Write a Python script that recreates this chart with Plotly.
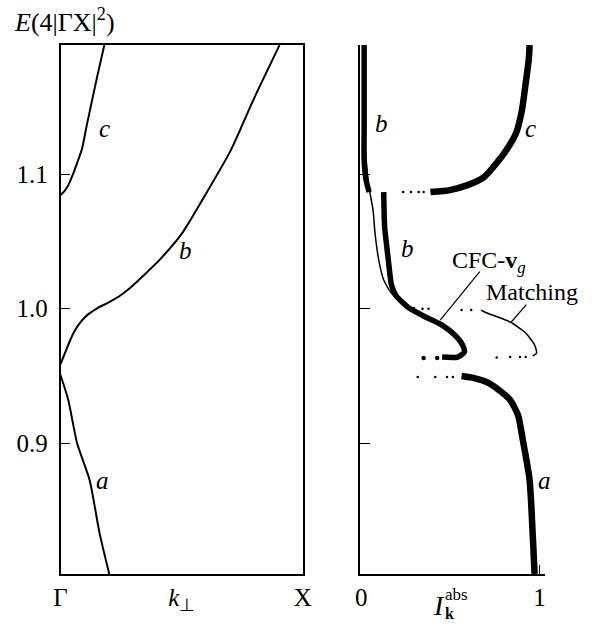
import plotly.graph_objects as go

# ---------------- data: left panel (band structure) ----------------
band_a_k = [0.0, 0.032, 0.068, 0.120, 0.161, 0.201]
band_a_E = [0.9506, 0.932, 0.900, 0.8725, 0.833, 0.8026]

band_b_k = [0.0, 0.0201, 0.0402, 0.0602, 0.0843, 0.1124, 0.1526, 0.1928, 0.2410, 0.2892, 0.3414,
            0.4096, 0.5020, 0.5823, 0.7028, 0.7952, 0.9036]
band_b_E = [0.9587, 0.9677, 0.9766, 0.9840, 0.9903, 0.9955, 1.0004, 1.0041, 1.0090, 1.0157, 1.0244,
            1.0364, 1.0561, 1.0799, 1.1178, 1.1550, 1.1959]

band_c_k = [0.0, 0.0161, 0.0321, 0.0482, 0.0683, 0.0884, 0.1084, 0.1285, 0.1526, 0.1807]
band_c_E = [1.0844, 1.0874, 1.0918, 1.0985, 1.1082, 1.1186, 1.1364, 1.1535, 1.1736, 1.1959]

# ---------------- data: right panel (I_k^abs) ----------------
cfc_b_top_I = [0.016, 0.016, 0.016, 0.027, 0.044]
cfc_b_top_E = [1.196, 1.1364, 1.1104, 1.0955, 1.0866]

cfc_b_low_I = [0.1257, 0.1311, 0.1421, 0.1530, 0.1694, 0.1967, 0.2350, 0.2678, 0.3607, 0.4536,
               0.5246, 0.5683, 0.5792, 0.5410, 0.4536]
cfc_b_low_E = [1.0866, 1.0606, 1.0472, 1.0346, 1.0175, 1.0093, 1.0041, 1.0004, 0.9937, 0.9877,
               0.9803, 0.9729, 0.9677, 0.9639, 0.9639]
cfc_b_dots_I = [0.426, 0.350]
cfc_b_dots_E = [0.9632, 0.9632]

match_b_I = [0.011, 0.016, 0.027, 0.038, 0.049, 0.066, 0.077, 0.098, 0.126, 0.169, 0.235]
match_b_E = [1.196, 1.1364, 1.1104, 1.0955, 1.0859, 1.0732, 1.0561, 1.0361, 1.0212, 1.0115, 1.0026]
match_dots1_I = [0.295, 0.344, 0.377, 0.563, 0.617]
match_dots1_E = [1.0004, 0.9998, 0.9998, 0.9989, 0.9989]
match_arc_I = [0.672, 0.705, 0.836, 0.923, 0.973, 0.984, 0.962]
match_arc_E = [0.9989, 0.9967, 0.9900, 0.9818, 0.9729, 0.9669, 0.9647]
match_dots2_I = [0.923, 0.891, 0.836, 0.760]
match_dots2_E = [0.9639, 0.9639, 0.9639, 0.9636]

c_dots_I = [0.235, 0.279, 0.322, 0.350]
c_dots_E = [1.0866, 1.0866, 1.0866, 1.0866]
c_I = [0.388, 0.497, 0.596, 0.689, 0.760, 0.825, 0.869, 0.902, 0.923, 0.940, 0.945]
c_E = [1.0866, 1.0881, 1.0918, 1.0978, 1.1082, 1.1200, 1.1305, 1.1476, 1.1677, 1.1848, 1.196]

a_dots_I = [0.317, 0.415, 0.481, 0.514]
a_dots_E = [0.9491, 0.9491, 0.9491, 0.9491]
a_I = [0.563, 0.634, 0.716, 0.787, 0.836, 0.880, 0.907, 0.945, 0.962, 0.973]
a_E = [0.9498, 0.9483, 0.9446, 0.9379, 0.9320, 0.9208, 0.9022, 0.8725, 0.8331, 0.8026]

y_ticks = [0.9, 1.0, 1.1]
y_labels = ["0.9", "1.0", "1.1"]
left_x_ticks = [0.0, 0.5, 1.0]
left_x_labels = ["Γ", "<i>k</i><sub>⊥</sub>", "X"]
right_x_ticks = [0, 1]
right_x_labels = ["0", "1"]

FONT = "Liberation Serif"
BLACK = "black"

fig = go.Figure()


def line(x, y, w, xa="x", ya="y"):
    fig.add_trace(go.Scatter(x=x, y=y, mode="lines",
                             line=dict(color=BLACK, width=w, shape="spline", smoothing=0.6),
                             xaxis=xa, yaxis=ya, showlegend=False, hoverinfo="skip"))


def dots(x, y, s, xa="x2", ya="y2"):
    fig.add_trace(go.Scatter(x=x, y=y, mode="markers", marker=dict(color=BLACK, size=s),
                             xaxis=xa, yaxis=ya, showlegend=False, hoverinfo="skip"))


# left panel
line(band_a_k, band_a_E, 2)
line(band_b_k, band_b_E, 2)
line(band_c_k, band_c_E, 2)

# right panel
line(match_b_I, match_b_E, 1.5, "x2", "y2")
line(match_arc_I, match_arc_E, 1.5, "x2", "y2")
dots(match_dots1_I, match_dots1_E, 2.5)
dots(match_dots2_I, match_dots2_E, 2.5)
line(cfc_b_top_I, cfc_b_top_E, 5.5, "x2", "y2")
line(cfc_b_low_I, cfc_b_low_E, 5.5, "x2", "y2")
dots(cfc_b_dots_I, cfc_b_dots_E, 4.5)
dots(c_dots_I, c_dots_E, 2.5)
line(c_I, c_E, 6.5, "x2", "y2")
dots(a_dots_I, a_dots_E, 2.5)
line(a_I, a_E, 6.5, "x2", "y2")

yr = [0.8026, 1.196]
tickfont = dict(family=FONT, size=25, color=BLACK)

fig.update_layout(
    width=600, height=624,
    margin=dict(l=0, r=0, t=0, b=0),
    plot_bgcolor="white", paper_bgcolor="white",
    font=dict(family=FONT, size=25, color=BLACK),
    xaxis=dict(domain=[55 / 600, 304 / 600], range=[0, 1], showgrid=False, zeroline=False,
               showline=True, linecolor=BLACK, linewidth=1.5, mirror=True,
               tickvals=left_x_ticks, ticktext=left_x_labels, ticks="", tickfont=tickfont),
    yaxis=dict(domain=[1 - 574 / 624, 1 - 45 / 624], range=yr, showgrid=False, zeroline=False,
               showline=True, linecolor=BLACK, linewidth=1.5, mirror=True,
               tickvals=y_ticks, ticktext=y_labels, ticks="inside", ticklen=10,
               tickwidth=1.2, tickcolor=BLACK, tickfont=tickfont, ticklabelstandoff=6),
    xaxis2=dict(domain=[363 / 600, 553 / 600], range=[-0.0055, 1.0328], showgrid=False, zeroline=False,
                showline=True, linecolor=BLACK, linewidth=1.5, anchor="y2",
                tickvals=right_x_ticks, ticktext=right_x_labels, ticks="inside", ticklen=9,
                tickwidth=1.2, tickcolor=BLACK, tickfont=tickfont),
    yaxis2=dict(domain=[1 - 574 / 624, 1 - 45 / 624], range=yr, showgrid=False, zeroline=False,
                showline=True, linecolor=BLACK, linewidth=1.5, anchor="x2",
                tickvals=y_ticks, showticklabels=False, ticks="inside", ticklen=10,
                tickwidth=1.2, tickcolor=BLACK),
)

ann = []


def lab(text, x, y, xr="x", yr_="y", size=25, xa="center", ya="middle"):
    ann.append(dict(text=text, x=x, y=y, xref=xr, yref=yr_, showarrow=False,
                    font=dict(family=FONT, size=size, color=BLACK), xanchor=xa, yanchor=ya))


lab("<i>c</i>", 0.181, 1.134)
lab("<i>b</i>", 0.514, 1.0435)
lab("<i>a</i>", 0.173, 0.8725)
lab("<i>b</i>", 0.115, 1.1379, "x2", "y2")
lab("<i>b</i>", 0.262, 1.045, "x2", "y2")
lab("<i>c</i>", 0.951, 1.1342, "x2", "y2")
lab("<i>a</i>", 1.027, 0.8725, "x2", "y2")
lab("CFC-<b>v</b><sub><i>g</i></sub>", 0.716, 1.0346, "x2", "y2", size=24)
lab("Matching", 0.956, 1.0123, "x2", "y2", size=24)
lab("<i>E</i>(4|ΓX|<sup>2</sup>)", 5 / 600, 1 - 20 / 624, "paper", "paper", size=26, xa="left")
lab("<i>I</i>", 444 / 600, 1 - 605 / 624, "paper", "paper", size=28)
lab("<b>k</b>", 455 / 600, 1 - 613 / 624, "paper", "paper", size=16)
lab("abs", 462 / 600, 1 - 594 / 624, "paper", "paper", size=17)

# leader lines
for (x0, y0, x1, y1) in [(0.443, 0.9914, 0.672, 1.0286), (0.842, 0.990, 0.934, 1.0041)]:
    ann.append(dict(text="", x=x0, y=y0, ax=x1, ay=y1, xref="x2", yref="y2", axref="x2", ayref="y2",
                    showarrow=True, arrowhead=0, arrowwidth=1.2, arrowcolor=BLACK, standoff=0, startstandoff=0))

fig.update_layout(annotations=ann)
fig.write_html("out.html")
